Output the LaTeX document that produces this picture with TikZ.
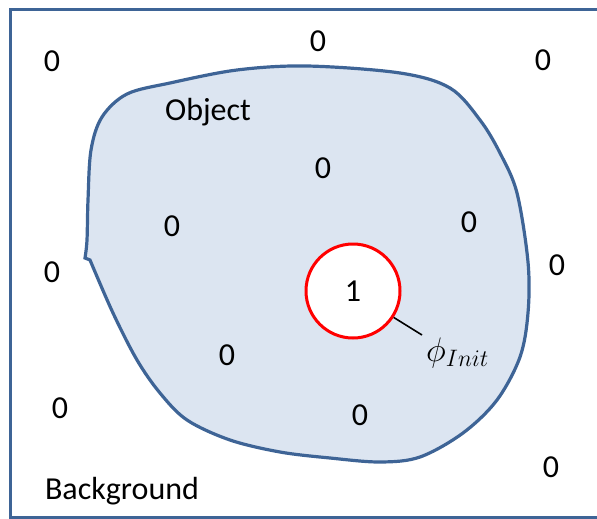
\RequirePackage{fix-cm}
\documentclass[tikz,border=0pt]{standalone}
\usepackage{fontspec}
\setmainfont{Carlito}
\usetikzlibrary{positioning,calc}
\definecolor{edgeblue}{HTML}{3E6496}
\definecolor{fillblue}{HTML}{DCE5F1}
\tikzset{
  frame/.style  = {draw=edgeblue, line width=3pt},
  region/.style = {draw=edgeblue, line width=3.2pt, fill=fillblue},
  val/.style    = {font=\fontsize{32}{38}\selectfont, inner sep=0pt},
  word/.style   = {font=\fontsize{32}{38}\selectfont, inner sep=0pt, anchor=base},
  seed/.style   = {draw=red, line width=3pt, fill=white, circle,
                   minimum size=94pt, inner sep=0pt,
                   font=\fontsize{32}{38}\selectfont},
  lead/.style   = {line width=1.6pt},
}

\begin{document}
\begin{tikzpicture}[x=1pt, y=-1pt]
\useasboundingbox (0,0) rectangle (597,519);
% outer frame (right side runs off the page)
\draw[frame] (620,10) -- (10,10) -- (10,517) -- (620,517);
% the object
\draw[region] plot[smooth, tension=0.55] coordinates {
  (90,260) (113,313) (137,360) (160,393) (187,420) (230,440) (280,452)
  (330,458) (380,462) (420,457) (463,433) (497,400) (520,357) (528,313)
  (528,262) (517,193) (500,153) (480,120) (450,88) (400,73) (307,66)
  (237,70) (170,83) (127,94) (102,117) (91,150) (88,200) (87,240)
  (85,258)} -- cycle;
% initial level set
\node[seed] (init) at (353,291) {1};
\coordinate (tip) at (422,335);
\node[anchor=west, inner sep=0pt, font=\fontsize{34}{40}\selectfont]
  (phi) at (426,353) {$\phi_{Init}$};
\draw[lead] (init.-33) -- (tip);
% level set values
\foreach \n/\p in {a/{(52,61)}, b/{(318,41)}, c/{(543,60)}, d/{(323,168)},
                   e/{(172,226)}, f/{(469,222)}, g/{(52,272)}, h/{(557,265)},
                   i/{(227,355)}, j/{(60,408)}, k/{(360,415)}, l/{(551,467)}}
  \node[val] (z\n) at \p {0};
\node[word] (obj) at (208,121) {Object};
\node[word] (bg) at (122,499) {Background};
\end{tikzpicture}
\end{document}
